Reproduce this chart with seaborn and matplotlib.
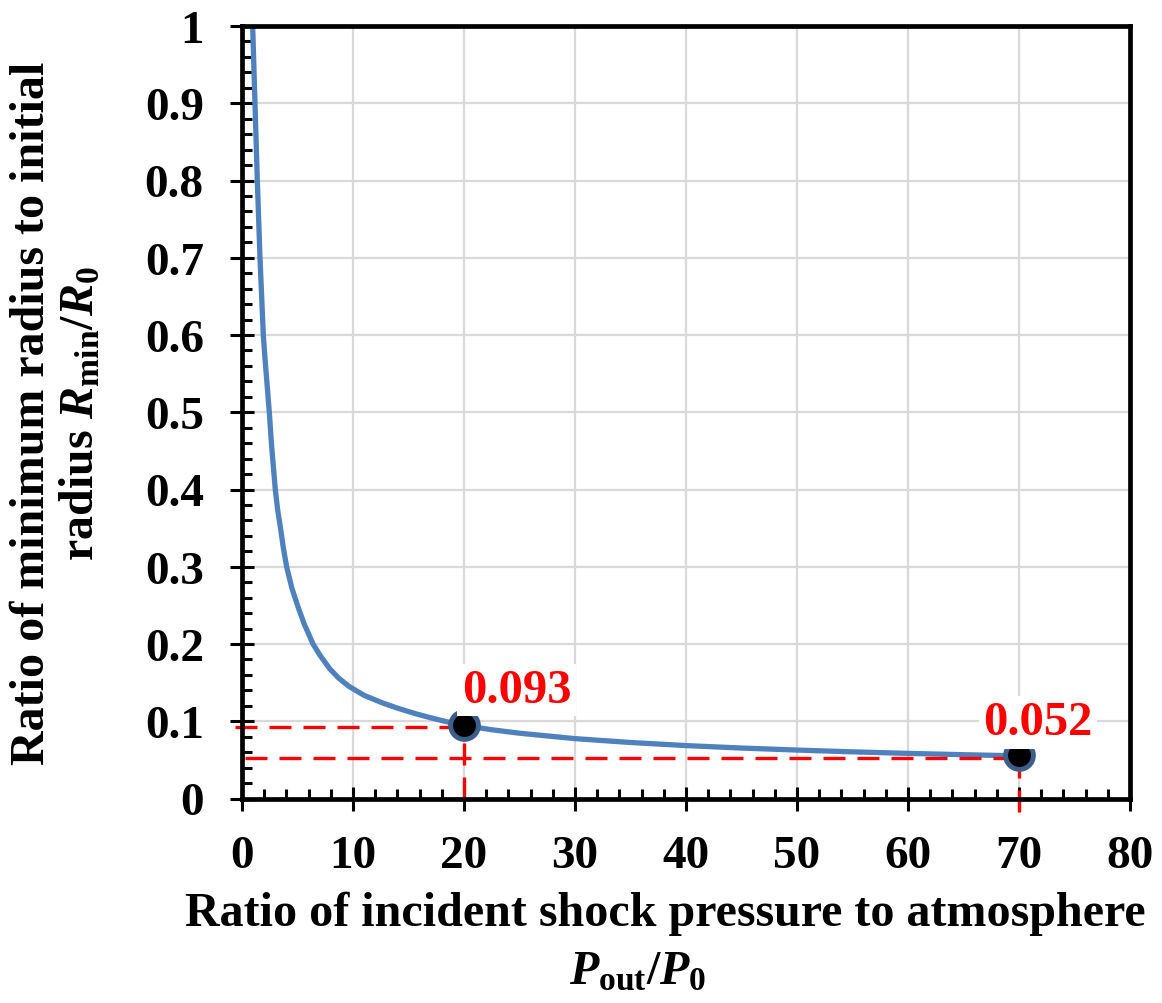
import numpy as np
import pandas as pd
import matplotlib
matplotlib.use("Agg")
import matplotlib.pyplot as plt
import seaborn as sns
from matplotlib.ticker import MultipleLocator

# ---- data ----
pressure_ratio = [0.96, 1.17, 1.38, 1.62, 1.92, 2.07, 2.22, 2.46, 2.67, 3.0, 3.22, 3.48,
                  3.73, 4.02, 4.5, 5.0, 5.6, 6.4, 7.0, 7.9, 8.7, 9.6, 11.0, 12.7,
                  14.0, 15.7, 17.0, 18.4, 20.0, 22.5, 25.0, 30.0, 35.0, 40.0, 45.0,
                  50.0, 55.0, 60.0, 65.0, 70.0]
radius_ratio = [1.0, 0.9, 0.8, 0.7, 0.6, 0.57, 0.543, 0.5, 0.456, 0.4, 0.373, 0.349,
                0.324, 0.3, 0.272, 0.25, 0.226, 0.2, 0.186, 0.168, 0.156, 0.1455, 0.1335,
                0.1235, 0.117, 0.1095, 0.1045, 0.0995, 0.0945, 0.089, 0.0845, 0.0775,
                0.0725, 0.0685, 0.0653, 0.0627, 0.0604, 0.0584, 0.0567, 0.0552]

marker_x = [20, 70]
marker_y = [0.0945, 0.056]
guide_values = [0.093, 0.052]
label_texts = ["0.093", "0.052"]

x_ticks = [0, 10, 20, 30, 40, 50, 60, 70, 80]
y_ticks = [0, 0.1, 0.2, 0.3, 0.4, 0.5, 0.6, 0.7, 0.8, 0.9, 1.0]
y_tick_labels = ["0", "0.1", "0.2", "0.3", "0.4", "0.5", "0.6", "0.7", "0.8", "0.9", "1"]

curve = pd.DataFrame({"x": pressure_ratio, "y": radius_ratio})
pts = pd.DataFrame({"x": marker_x, "y": marker_y})

# ---- style ----
sns.set_style("white")
plt.rcParams["font.family"] = ["Liberation Serif", "DejaVu Serif"]
plt.rcParams["font.weight"] = "bold"
plt.rcParams["text.color"] = "black"
plt.rcParams["axes.labelcolor"] = "black"
plt.rcParams["mathtext.fontset"] = "custom"
plt.rcParams["mathtext.rm"] = "Liberation Serif:bold"
plt.rcParams["mathtext.it"] = "Liberation Serif:italic:bold"
plt.rcParams["mathtext.bf"] = "Liberation Serif:bold"

FS_TICK = 34
FS_LAB = 34.6
fig = plt.figure(figsize=(11.62, 10.04), dpi=100)
ax = fig.add_axes([242 / 1162, 1 - 799.5 / 1004, (1130 - 242) / 1162, (799.5 - 27) / 1004])

ax.set_axisbelow(True)
ax.grid(True, which="major", color="#d9d9d9", linewidth=1.6)

sns.lineplot(data=curve, x="x", y="y", sort=False, estimator=None, ax=ax,
             color="#4f81bd", linewidth=3.8, zorder=3,
             solid_joinstyle="round", solid_capstyle="butt")

red = "#ff0000"
dash = (0, (6.6, 3.6))
lw_d = 2.4
ax.hlines(guide_values[0], -0.6, marker_x[0], colors=red, linestyles=dash,
          linewidth=lw_d, zorder=4, clip_on=False)
ax.hlines(guide_values[1], 0.3, marker_x[1], colors=red, linestyles=dash,
          linewidth=lw_d, zorder=4, clip_on=False)
ax.vlines(marker_x[0], 0, guide_values[0], colors=red, linestyles=dash,
          linewidth=lw_d, zorder=4, clip_on=False)
ax.vlines(marker_x[1], -0.017, guide_values[1], colors=red, linestyles=dash,
          linewidth=lw_d, zorder=4, clip_on=False)

sns.scatterplot(data=pts, x="x", y="y", ax=ax, s=400, color="black",
                edgecolor="#3b5f8a", linewidth=3.5, zorder=5, legend=False)

label_pos = [(19.8, 0.125), (66.75, 0.083)]
for (lx, ly), t in zip(label_pos, label_texts):
    ax.text(lx, ly, t, color=red, fontsize=35, fontweight="bold",
            ha="left", va="baseline", zorder=6,
            bbox=dict(facecolor="white", edgecolor="none", pad=3))

ax.set_xlim(0, 80)
ax.set_ylim(0, 1)
ax.set_xticks(x_ticks)
ax.set_yticks(y_ticks)
ax.set_yticklabels(y_tick_labels)
ax.xaxis.set_minor_locator(MultipleLocator(2))
ax.yaxis.set_minor_locator(MultipleLocator(0.02))

for s in ax.spines.values():
    s.set_visible(True)
    s.set_color("black")
    s.set_linewidth(3.4)
    s.set_zorder(7)

ax.tick_params(which="both", bottom=True, left=True, top=False, right=False)
ax.tick_params(which="major", direction="inout", length=17, width=2.2,
               colors="black", labelsize=FS_TICK)
ax.tick_params(axis="x", which="major", pad=18)
ax.tick_params(axis="y", which="major", pad=19)
ax.tick_params(which="minor", direction="in", length=7, width=2.2, colors="black")
for lab in ax.get_xticklabels() + ax.get_yticklabels():
    lab.set_fontweight("bold")
    lab.set_color("black")

ax.set_xlabel("Ratio of incident shock pressure to atmosphere",
              fontsize=FS_LAB, fontweight="bold", color="black")
ax.xaxis.set_label_coords((665 - 242) / 888, -(892 - 799.5) / 772.5)
ax.text((638 - 242) / 888, -(950 - 799.5) / 772.5, r"$P_{\mathrm{out}}/P_{0}$",
        transform=ax.transAxes, ha="center", va="top", fontsize=FS_LAB, color="black")

ax.set_ylabel("Ratio of minimum radius to initial\n" + r"radius $R_{\mathrm{min}}/R_{0}$",
              fontsize=FS_LAB, fontweight="bold", linespacing=1.12, color="black")
ax.yaxis.set_label_coords(-(242 - 103) / 888, 0.5)

fig.savefig("out.png", dpi=100)
